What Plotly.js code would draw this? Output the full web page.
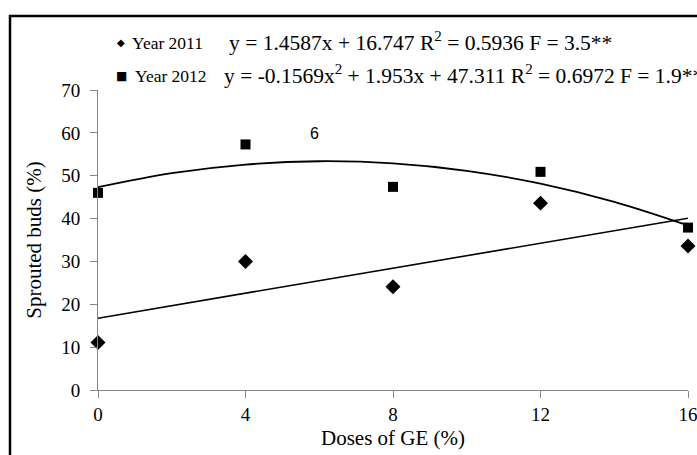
<!DOCTYPE html>
<html>
<head>
<meta charset="utf-8">
<script src="https://cdn.plot.ly/plotly-3.0.1.min.js"></script>
<style>html,body{margin:0;padding:0;background:#fff;}#chart{width:697px;height:455px;}</style>
</head>
<body>
<div id="chart"></div>
<script>
// Observed data
var doses = [0, 4, 8, 12, 16];
var year2011 = [11.1, 30.0, 24.1, 43.6, 33.6];
var year2012 = [46.0, 57.3, 47.4, 50.9, 37.9];

// Trendlines
var trend2011X = [0, 16];
var trend2011Y = [16.75, 40.09];
var trend2012X = [0, 2, 4, 6, 8, 10, 12, 14, 16];
var trend2012Y = [47.31, 50.59, 52.61, 53.38, 52.89, 51.15, 48.15, 43.90, 38.39];

// Texts
var xTitle = 'Doses of GE (%)';
var yTitle = 'Sprouted buds (%)';
var label2011 = 'Year 2011';
var label2012 = 'Year 2012';
var eq2011 = 'y = 1.4587x + 16.747 R<sup>2</sup> = 0.5936 F = 3.5**';
var eq2012 = 'y = -0.1569x<sup>2</sup> + 1.953x + 47.311 R<sup>2</sup> = 0.6972 F = 1.9**';
var xTicks = [0, 4, 8, 12, 16];
var yTicks = [0, 10, 20, 30, 40, 50, 60, 70];

var W = 697, H = 455;
var mL = 98, mR = 9, mT = 90, mB = 65;
var pw = W - mL - mR, ph = H - mT - mB;
function px(x) { return (x - mL) / pw; }
function py(y) { return (H - mB - y) / ph; }

var serif = 'Liberation Serif, Times New Roman, serif';

var traces = [
  {x: trend2011X, y: trend2011Y, mode: 'lines', line: {color: '#000', width: 1.6}, hoverinfo: 'skip', showlegend: false},
  {x: trend2012X, y: trend2012Y, mode: 'lines', line: {color: '#000', width: 1.8, shape: 'spline'}, hoverinfo: 'skip', showlegend: false},
  {x: doses, y: year2011, mode: 'markers', marker: {symbol: 'diamond', size: 11.5, color: '#000'}, cliponaxis: false, showlegend: false, name: label2011},
  {x: doses, y: year2012, mode: 'markers', marker: {symbol: 'square', size: 10, color: '#000'}, cliponaxis: false, showlegend: false, name: label2012}
];

var layout = {
  width: W, height: H,
  margin: {l: mL, r: mR, t: mT, b: mB, pad: 0},
  paper_bgcolor: '#fff', plot_bgcolor: '#fff',
  showlegend: false,
  xaxis: {
    range: [0, 16], tickvals: xTicks, ticktext: xTicks.map(String),
    showgrid: false, zeroline: false, showline: true, linecolor: '#868686', linewidth: 1,
    ticks: 'outside', ticklen: 7, tickcolor: '#868686', tickwidth: 1,
    ticklabeloverflow: 'allow', automargin: false,
    tickfont: {family: serif, size: 19, color: '#000'},
    title: {text: xTitle, font: {family: serif, size: 21, color: '#000'}, standoff: 6}
  },
  yaxis: {
    range: [0, 70], tickvals: yTicks, ticktext: yTicks.map(String),
    showgrid: false, zeroline: false, showline: true, linecolor: '#868686', linewidth: 1,
    ticks: 'outside', ticklen: 7, tickcolor: '#868686', tickwidth: 1,
    ticklabelstandoff: 6,
    tickfont: {family: serif, size: 19, color: '#000'},
    title: {text: yTitle, font: {family: serif, size: 21, color: '#000'}, standoff: 13}
  },
  shapes: [
    {type: 'rect', xref: 'paper', yref: 'paper', x0: px(10), x1: px(720), y0: py(480), y1: py(16),
     line: {color: '#000', width: 2.5}, fillcolor: 'rgba(0,0,0,0)', layer: 'above'}
  ],
  annotations: [
    {xref: 'paper', yref: 'paper', x: px(121), y: py(43), xanchor: 'center', yanchor: 'middle', text: '◆', showarrow: false, font: {family: 'DejaVu Sans', size: 10, color: '#000'}},
    {xref: 'paper', yref: 'paper', x: px(130), y: py(43), xanchor: 'left', yanchor: 'middle', text: label2011, showarrow: false, font: {family: serif, size: 17.5, color: '#000'}},
    {xref: 'paper', yref: 'paper', x: px(227), y: py(41), xanchor: 'left', yanchor: 'middle', text: eq2011, showarrow: false, font: {family: serif, size: 21.5, color: '#000'}},
    {xref: 'paper', yref: 'paper', x: px(121), y: py(76), xanchor: 'center', yanchor: 'middle', text: '■', showarrow: false, font: {family: 'DejaVu Sans', size: 12, color: '#000'}},
    {xref: 'paper', yref: 'paper', x: px(133), y: py(76), xanchor: 'left', yanchor: 'middle', text: label2012, showarrow: false, font: {family: serif, size: 17.5, color: '#000'}},
    {xref: 'paper', yref: 'paper', x: px(222), y: py(74), xanchor: 'left', yanchor: 'middle', text: eq2012, showarrow: false, font: {family: serif, size: 21.5, color: '#000'}},
    {xref: 'paper', yref: 'paper', x: px(314), y: py(133), xanchor: 'center', yanchor: 'middle', text: '6', showarrow: false, font: {family: 'Liberation Sans, Arial, sans-serif', size: 16, color: '#000'}}
  ]
};

Plotly.newPlot('chart', traces, layout, {displayModeBar: false, staticPlot: true});
</script>
</body>
</html>
